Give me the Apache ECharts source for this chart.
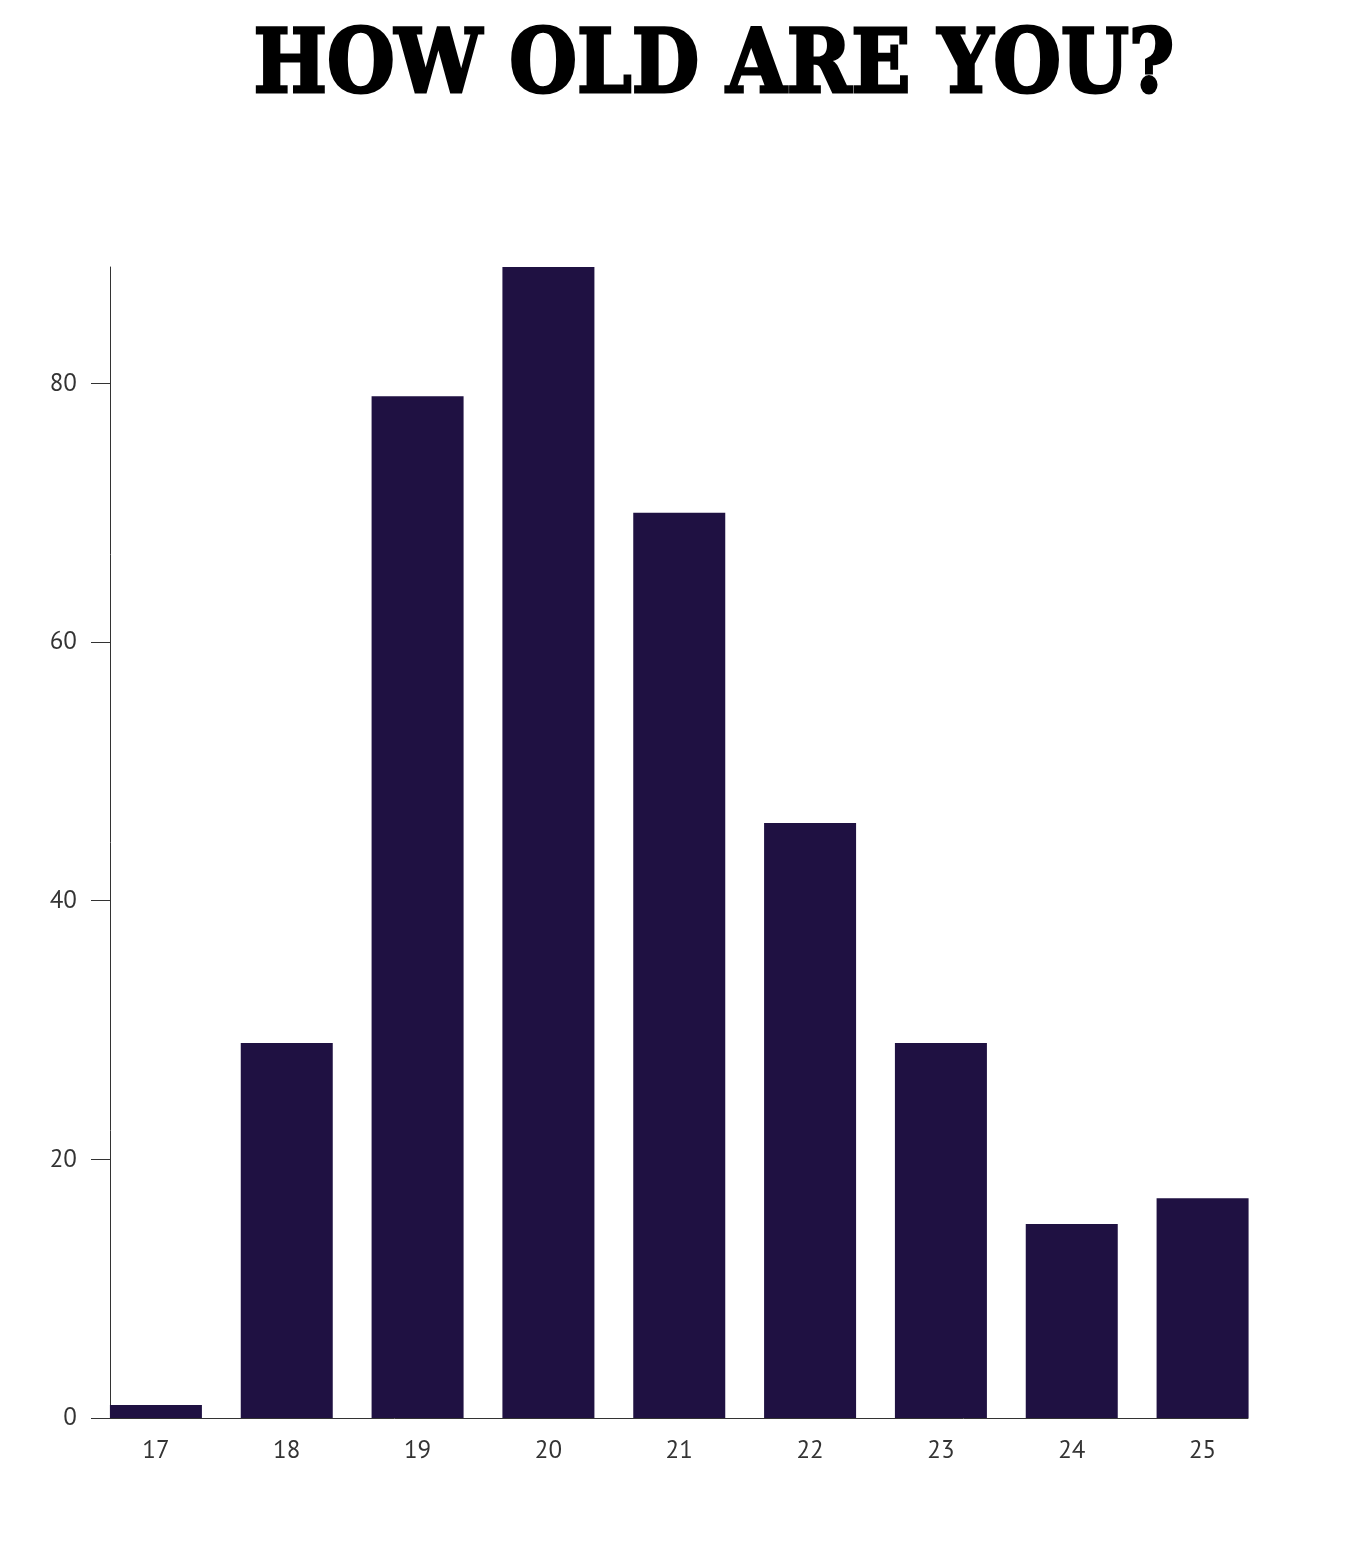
<!DOCTYPE html>
<html>
<head>
<meta charset="utf-8">
<script src="https://cdn.jsdelivr.net/npm/echarts@6/dist/echarts.min.js"></script>
<style>
html,body{margin:0;padding:0;background:#fff;}
#chart{width:1358px;height:1542px;}
</style>
</head>
<body>
<div id="chart"></div>
<script>
const titleText = "HOW OLD ARE YOU?";
const ages = ["17","18","19","20","21","22","23","24","25"];
const counts = [1, 29, 79, 89, 70, 46, 29, 15, 17];
const yTicks = [0, 20, 40, 60, 80];

const yMax = Math.max.apply(null, counts);
const chart = echarts.init(document.getElementById('chart'));
const labelFont = '"PT Sans", "Noto Sans", "Open Sans", sans-serif';
chart.setOption({
  animation: false,
  backgroundColor: '#ffffff',
  graphic: [
    {
      type: 'text',
      x: 714,
      y: 69,
      scaleX: 0.884,
      originX: 0,
      style: {
        text: titleText,
        fontFamily: '"DejaVu Serif", "Liberation Serif", serif',
        fontWeight: 'bold',
        fontSize: 88,
        fill: '#000000',
        stroke: '#000000',
        lineWidth: 3,
        align: 'center',
        verticalAlign: 'middle'
      }
    }
  ],
  grid: [
    {left: 90.5, right: 90, top: 267, bottom: 124},
    {left: 110, right: 110, top: 267, bottom: 124}
  ],
  xAxis: [
    {
      type: 'category', gridIndex: 0, data: ages,
      axisLine: {show: false}, axisTick: {show: false},
      axisLabel: {fontSize: 25, color: '#333333', margin: 20, fontFamily: labelFont}
    },
    {
      type: 'value', gridIndex: 1, min: 0, max: 1,
      axisLine: {show: true, onZero: true, lineStyle: {color: '#333333', width: 1}},
      axisTick: {show: false}, axisLabel: {show: false}, splitLine: {show: false}
    }
  ],
  yAxis: [
    {
      type: 'value', gridIndex: 0, min: 0, max: yMax,
      axisLine: {show: false}, axisTick: {show: false}, axisLabel: {show: false}, splitLine: {show: false}
    },
    {
      type: 'value', gridIndex: 1, min: 0, max: yMax,
      axisLine: {show: true, lineStyle: {color: '#333333', width: 1}},
      axisTick: {show: true, length: 19, customValues: yTicks, lineStyle: {color: '#333333'}},
      axisLabel: {customValues: yTicks, fontSize: 25, color: '#333333', margin: 33, fontFamily: labelFont},
      splitLine: {show: false}
    }
  ],
  series: [
    {
      type: 'bar', xAxisIndex: 0, yAxisIndex: 0,
      data: counts, barWidth: 92,
      itemStyle: {color: '#1f1142'}
    }
  ]
});
</script>
</body>
</html>
